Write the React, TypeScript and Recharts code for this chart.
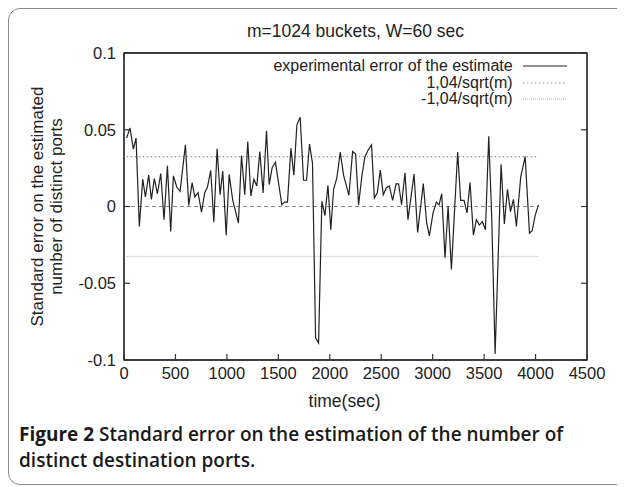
import { LineChart, Line, XAxis, YAxis, Legend, ReferenceLine, ReferenceArea, Label } from "recharts";

const FONT = "'Liberation Sans', Arial, sans-serif";
const AXIS = "#333";

// time (sec) of each estimate
const times = [
  26, 58, 91, 117, 149, 182, 208, 240, 266, 295, 325, 357, 389, 422, 454, 480, 513, 545, 597, 629,
  662, 688, 720, 753, 785, 811, 843, 873, 905, 934, 960, 993, 1022, 1057, 1112, 1142, 1174, 1203, 1233, 1262,
  1291, 1320, 1352, 1385, 1411, 1440, 1472, 1534, 1560, 1589, 1622, 1651, 1680, 1712, 1745, 1774, 1803, 1832, 1862, 1891,
  1923, 1953, 1982, 2010, 2037, 2069, 2102, 2134, 2186, 2222, 2251, 2280, 2313, 2342, 2374, 2406, 2433, 2462, 2491, 2520,
  2549, 2578, 2611, 2644, 2669, 2698, 2731, 2760, 2819, 2854, 2909, 2941, 2968, 3004, 3036, 3062, 3088, 3120, 3150, 3182,
  3243, 3272, 3305, 3334, 3363, 3396, 3425, 3454, 3483, 3513, 3545, 3574, 3607, 3665, 3697, 3727, 3756, 3785, 3814, 3856,
  3899, 3941, 3967, 3996, 4028,
];

// experimental error of the estimate
const errors = [
  0.0446, 0.0512, 0.0374, 0.0446, -0.013, 0.0178, 0.0062, 0.0204, 0.0046, 0.0182, 0.0083, 0.0215, -0.0086, 0.0266, -0.0163, 0.02, 0.0127, 0.0099, 0.0402, 0.0007,
  0.0156, 0.0062, 0.009, -0.0037, 0.009, 0.0127, 0.0235, -0.0103, 0.0376, 0.0077, 0.0231, -0.0187, 0.0209, 0.004, -0.0108, 0.0332, 0.0077, 0.0424, 0.0068, 0.0178,
  0.0134, 0.0358, 0.0088, 0.0494, 0.0143, 0.0253, 0.0288, 0.0011, 0.0029, 0.0029, 0.038, 0.0204, 0.053, 0.0582, 0.0171, 0.0171, 0.0407, 0.0281, -0.0855, -0.089,
  0.0033, -0.0059, 0.0138, -0.0152, 0.0112, 0.0187, 0.0354, 0.0204, 0.0073, 0.0358, 0.0341, 0.0011, 0.0204, 0.0325, 0.0369, 0.0402, 0.0055, 0.009, 0.0237, 0.0077,
  0.0121, 0.0134, 0.004, 0.0147, 0.0147, 0.0011, 0.022, -0.0086, 0.0211, -0.0169, 0.0149, -0.0103, -0.0191, -0.0042, 0.0029, 0.0011, 0.0083, -0.0334, 0.0002, -0.0411,
  0.0354, 0.004, 0.004, -0.0042, 0.0156, -0.0187, -0.0086, -0.0121, -0.0099, -0.0152, 0.0457, -0.007, -0.096, 0.0275, -0.0114, 0.0112, -0.0033, 0.0046, -0.013, 0.0193,
  0.0325, -0.0174, -0.0158, -0.0059, 0.0011,
];

const xTicks = [0, 500, 1000, 1500, 2000, 2500, 3000, 3500, 4000, 4500];
const yTicks = [-0.1, -0.05, 0, 0.05, 0.1];
const xDomain = [0, 4500];
const yDomain = [-0.1, 0.1];
const bound = 1.04 / Math.sqrt(1024);

const data = times.map((t, i) => ({ t, err: errors[i], up: bound, low: -bound }));

const styles: Record<string, { stroke: string; dash?: string; width: number }> = {
  err: { stroke: "#222", width: 1.2 },
  up: { stroke: "#999", dash: "1.5 2.5", width: 1.2 },
  low: { stroke: "#b5b5b5", dash: "1 1", width: 1 },
};

const labelText = { fill: "#222", fontSize: 16.5, fontFamily: FONT };

// gnuplot style: ticks point into the plot
function BottomTick({ x, y, payload }: any) {
  const axisY = y - 7;
  return (
    <g>
      <line x1={x} x2={x} y1={axisY} y2={axisY - 6} stroke={AXIS} strokeWidth={1.2} />
      <text x={x} y={y} dy="0.71em" textAnchor="middle" {...labelText}>
        {payload.value}
      </text>
    </g>
  );
}

function LeftTick({ x, y, payload }: any) {
  const axisX = x + 8;
  return (
    <g>
      <line x1={axisX} x2={axisX + 6} y1={y} y2={y} stroke={AXIS} strokeWidth={1.2} />
      <text x={x} y={y} dy="0.35em" textAnchor="end" {...labelText}>
        {payload.value}
      </text>
    </g>
  );
}

function TopTick({ x, y }: any) {
  return <line x1={x} x2={x} y1={y} y2={y + 6} stroke={AXIS} strokeWidth={1.2} />;
}

function RightTick({ x, y }: any) {
  return <line x1={x} x2={x - 6} y1={y} y2={y} stroke={AXIS} strokeWidth={1.2} />;
}

function GnuLegend(props: any) {
  const items = props.payload || [];
  return (
    <div style={{ fontFamily: FONT, fontSize: 16, color: "#222" }}>
      {items.map((it: any) => {
        const s = styles[it.dataKey];
        return (
          <div key={it.dataKey} style={{ display: "flex", alignItems: "center", height: 16.5 }}>
            <span style={{ width: 250, textAlign: "right", whiteSpace: "nowrap" }}>{it.value}</span>
            <svg width={54} height={4} style={{ marginLeft: 10 }}>
              <line x1={0} x2={44} y1={2} y2={2} stroke={s.stroke} strokeWidth={s.width} strokeDasharray={s.dash} />
            </svg>
          </div>
        );
      })}
    </div>
  );
}

function YTitle({ viewBox }: any) {
  const cy = viewBox.y + viewBox.height / 2;
  const x1 = viewBox.x - 27;
  const x2 = viewBox.x - 8;
  const common = { textAnchor: "middle" as const, fontSize: 17, fontFamily: FONT, fill: "#222", dy: "0.35em" };
  return (
    <g>
      <text x={x1} y={cy} transform={`rotate(-90, ${x1}, ${cy})`} {...common}>
        Standard error on the estimated
      </text>
      <text x={x2} y={cy} transform={`rotate(-90, ${x2}, ${cy})`} {...common}>
        number of distinct ports
      </text>
    </g>
  );
}

export default function App() {
  return (
    <div style={{ position: "relative", width: 617, height: 477, overflow: "hidden" }}>
      <div
        style={{
          position: "absolute",
          left: 0,
          top: 0,
          width: 640,
          height: 475,
          border: "1.5px solid #8a8a8a",
          borderRadius: 12,
        }}
      />
      <div
        style={{
          position: "absolute",
          left: 197.5,
          top: 13,
          width: 300,
          textAlign: "center",
          fontFamily: FONT,
          fontSize: 17.5,
          lineHeight: "20px",
          color: "#222",
        }}
      >
        m=1024 buckets, W=60 sec
      </div>
      <div style={{ position: "absolute", left: 0, top: 0 }}>
        <LineChart width={609} height={420} data={data} margin={{ top: 44, right: 29, bottom: 38, left: 56 }}>
          <XAxis
            dataKey="t"
            type="number"
            domain={xDomain}
            ticks={xTicks}
            interval={0}
            allowDataOverflow
            height={30}
            stroke={AXIS}
            strokeWidth={1.3}
            tickLine={false}
            tickSize={0}
            tickMargin={7}
            tick={<BottomTick />}
          >
            <Label value="time(sec)" position="bottom" offset={5} dx={-11} fontSize={17.5} fontFamily={FONT} fill="#222" />
          </XAxis>
          <XAxis
            xAxisId="top"
            orientation="top"
            type="number"
            domain={xDomain}
            ticks={xTicks}
            interval={0}
            allowDataOverflow
            height={1}
            stroke={AXIS}
            strokeWidth={1.3}
            tickLine={false}
            tickSize={0}
            tickMargin={0}
            tick={<TopTick />}
          />
          <YAxis
            type="number"
            domain={yDomain}
            ticks={yTicks}
            interval={0}
            allowDataOverflow
            width={60}
            stroke={AXIS}
            strokeWidth={1.3}
            tickLine={false}
            tickSize={0}
            tickMargin={8}
            tick={<LeftTick />}
            label={<YTitle />}
          />
          <YAxis
            yAxisId="right"
            orientation="right"
            type="number"
            domain={yDomain}
            ticks={yTicks}
            interval={0}
            allowDataOverflow
            width={1}
            stroke={AXIS}
            strokeWidth={1.3}
            tickLine={false}
            tickSize={0}
            tickMargin={0}
            tick={<RightTick />}
          />
          {/* plot border */}
          <ReferenceArea
            x1={xDomain[0]}
            x2={xDomain[1]}
            y1={yDomain[0]}
            y2={yDomain[1]}
            fill="none"
            fillOpacity={0}
            stroke={AXIS}
            strokeWidth={1.3}
          />
          <ReferenceLine
            segment={[
              { x: 0, y: 0 },
              { x: times[times.length - 1], y: 0 },
            ]}
            stroke="#888"
            strokeWidth={1}
            strokeDasharray="4 3"
          />
          <Line
            dataKey="up"
            name="1,04/sqrt(m)"
            stroke={styles.up.stroke}
            strokeWidth={styles.up.width}
            strokeDasharray={styles.up.dash}
            dot={false}
            activeDot={false}
            isAnimationActive={false}
          />
          <Line
            dataKey="low"
            name="-1,04/sqrt(m)"
            stroke={styles.low.stroke}
            strokeWidth={styles.low.width}
            strokeDasharray={styles.low.dash}
            dot={false}
            activeDot={false}
            isAnimationActive={false}
          />
          <Line
            dataKey="err"
            name="experimental error of the estimate"
            type="linear"
            stroke={styles.err.stroke}
            strokeWidth={styles.err.width}
            dot={false}
            activeDot={false}
            isAnimationActive={false}
          />
          <Legend
            layout="vertical"
            align="center"
            verticalAlign="middle"
            itemSorter={(it: any) => ["err", "up", "low"].indexOf(it.dataKey)}
            wrapperStyle={{ left: 254.7, top: 50, width: 320 }}
            content={<GnuLegend />}
          />
        </LineChart>
      </div>
      <div
        style={{
          position: "absolute",
          left: 11,
          top: 413,
          fontFamily: "'Open Sans', sans-serif",
          fontWeight: 600,
          fontSize: 19,
          lineHeight: "26px",
          color: "#1a1a1a",
          whiteSpace: "nowrap",
        }}
      >
        <b style={{ fontWeight: 700 }}>Figure 2</b> Standard error on the estimation of the number of
        <br />
        distinct destination ports.
      </div>
    </div>
  );
}
